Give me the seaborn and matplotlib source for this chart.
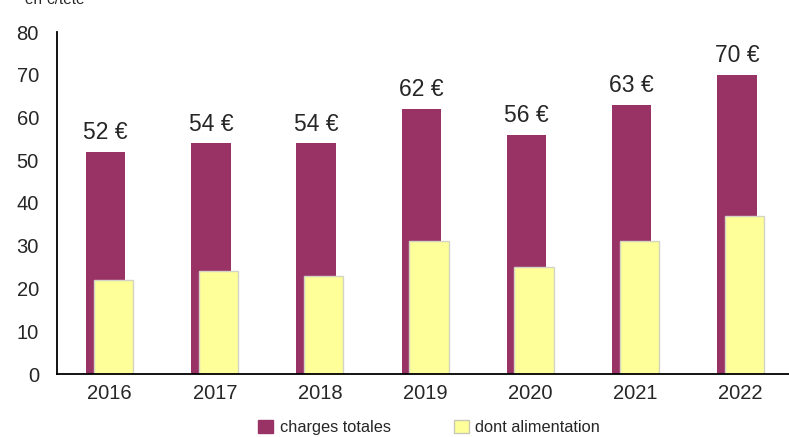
import numpy as np
import pandas as pd
import matplotlib
matplotlib.use("Agg")
import matplotlib.pyplot as plt
import seaborn as sns
from matplotlib.patches import Patch

# data (€ per head)
years = ["2016", "2017", "2018", "2019", "2020", "2021", "2022"]
charges_totales = [52, 54, 54, 62, 56, 63, 70]
dont_alimentation = [22, 24, 23, 31, 25, 31, 37]

purple = "#993366"
yellow = "#FFFF99"

sns.set_style("white")
plt.rcParams["font.family"] = ["Liberation Sans", "DejaVu Sans"]

df = pd.DataFrame({"annee": years, "total": charges_totales, "alim": dont_alimentation})

fig = plt.figure(figsize=(7.89, 4.37), dpi=100)
ax = fig.add_axes([57/789, 63/437, 736.3/789, 342/437])

bw = 0.375
sns.barplot(data=df, x="annee", y="total", color=purple, saturation=1,
            width=bw, edgecolor=purple, linewidth=0, ax=ax)
n = len(ax.patches)
sns.barplot(data=df, x="annee", y="alim", color=yellow, saturation=1,
            width=bw, edgecolor="#D4D4C4", linewidth=1, ax=ax)

# shift overlapping bars: totals a bit left, feed a bit right
for i, p in enumerate(ax.patches):
    if i < n:
        p.set_x(p.get_x() - 0.037)
    else:
        p.set_x(p.get_x() + 0.036)

for i, v in enumerate(charges_totales):
    p = ax.patches[i]
    ax.annotate(f"{v} €", (p.get_x() + p.get_width()/2, v),
                xytext=(0, 9), textcoords="offset points",
                ha="center", va="baseline", fontsize=16.5)

ax.set_xlim(-0.5, 6.5)
ax.set_ylim(0, 80)
ax.set_yticks(np.arange(0, 81, 10))
ax.set_xlabel("")
ax.set_ylabel("")

for s in ["top", "right"]:
    ax.spines[s].set_visible(False)
ax.spines["left"].set_color("black")
ax.spines["left"].set_linewidth(1.3)
ax.spines["bottom"].set_color("black")
ax.spines["bottom"].set_linewidth(1.3)

ax.tick_params(axis="y", direction="out", length=6, width=1, color="#777777",
               labelsize=14.5, pad=7)
ax.tick_params(axis="x", which="major", length=0, labelsize=14.5, pad=7)
ax.set_xticks(np.arange(-0.5, 6.6, 1), minor=True)
ax.tick_params(axis="x", which="minor", direction="out", length=5, width=1,
               color="#777777")

fig.text(25/789, 1.0, "en €/tête", fontsize=11, ha="left", va="center")

handles = [Patch(facecolor=purple, edgecolor=purple),
           Patch(facecolor=yellow, edgecolor="#C8C8B8")]
fig.legend(handles, ["charges totales", "dont alimentation"], loc="center",
           bbox_to_anchor=(0.544, 0.022), ncol=2, frameon=False, fontsize=11.8,
           handlelength=0.9, handleheight=0.9, handletextpad=0.4,
           columnspacing=3.85, borderaxespad=0)

fig.savefig("out.png", dpi=100)
